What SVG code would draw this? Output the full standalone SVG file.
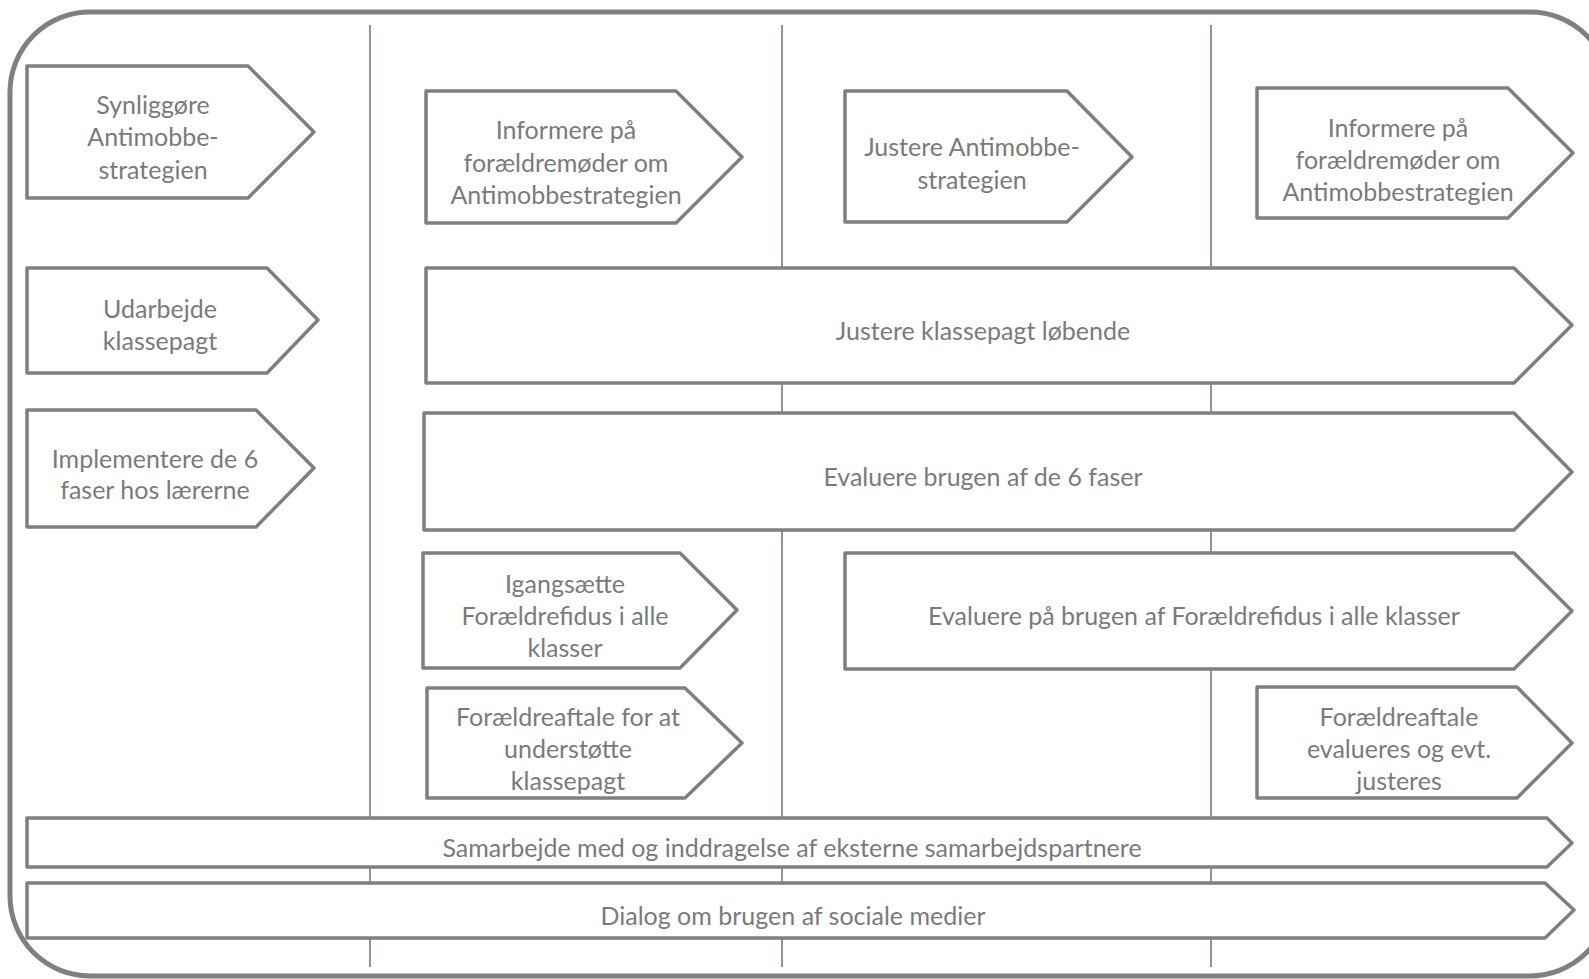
<svg xmlns="http://www.w3.org/2000/svg" width="1589" height="979" viewBox="0 0 1589 979">
<style>
.frame{fill:#fff;stroke:#808080;stroke-width:5}
.div{stroke:#8497b0;stroke-width:2}
.box{fill:#fff;stroke:#7f7f7f;stroke-width:3.5;stroke-linejoin:round}
text{font-family:Lato,"Open Sans","Liberation Sans",sans-serif;font-size:25px;fill:#7a7a7a;text-anchor:middle}
</style>
<rect class="frame" x="10" y="12" width="1600" height="964" rx="80" ry="80"/>
<g id="connectors">
<line class="div" x1="370" y1="25" x2="370" y2="967"/>
<line class="div" x1="782" y1="25" x2="782" y2="967"/>
<line class="div" x1="1211" y1="25" x2="1211" y2="967"/>
</g>
<g id="n1"><polygon class="box" points="27,66 248,66 314,132 248,198 27,198"/>
<text x="153" y="114">Synliggøre</text><text x="153" y="146">Antimobbe-</text><text x="153" y="179">strategien</text></g>
<g id="n2"><polygon class="box" points="426,91 676,91 742,157 676,223 426,223"/>
<text x="566" y="139">Informere på</text><text x="566" y="172">forældremøder om</text><text x="566" y="204">Antimobbestrategien</text></g>
<g id="n3"><polygon class="box" points="845,91 1067,91 1132,157 1067,222 845,222"/>
<text x="972" y="156">Justere Antimobbe-</text><text x="972" y="189">strategien</text></g>
<g id="n4"><polygon class="box" points="1257,88 1508,88 1573,153 1508,218 1257,218"/>
<text x="1398" y="137">Informere på</text><text x="1398" y="169">forældremøder om</text><text x="1398" y="201">Antimobbestrategien</text></g>
<g id="n5"><polygon class="box" points="27,268 267,268 318,320 267,373 27,373"/>
<text x="160" y="318">Udarbejde</text><text x="160" y="350">klassepagt</text></g>
<g id="n6"><polygon class="box" points="426,268 1514,268 1572,325 1514,383 426,383"/>
<text x="983" y="340">Justere klassepagt løbende</text></g>
<g id="n7"><polygon class="box" points="27,410 256,410 314,468 256,527 27,527"/>
<text x="155" y="468">Implementere de 6</text><text x="155" y="499">faser hos lærerne</text></g>
<g id="n8"><polygon class="box" points="424,413 1514,413 1572,472 1514,530 424,530"/>
<text x="983" y="486">Evaluere brugen af de 6 faser</text></g>
<g id="n9"><polygon class="box" points="423,553 680,553 737,610 680,668 423,668"/>
<text x="565" y="593">Igangsætte</text><text x="565" y="625">Forældrefidus i alle</text><text x="565" y="657">klasser</text></g>
<g id="n10"><polygon class="box" points="845,553 1514,553 1572,611 1514,669 845,669"/>
<text x="1194" y="625">Evaluere på brugen af Forældrefidus i alle klasser</text></g>
<g id="n11"><polygon class="box" points="427,688 685,688 742,743 685,798 427,798"/>
<text x="568" y="726">Forældreaftale for at</text><text x="568" y="758">understøtte</text><text x="568" y="790">klassepagt</text></g>
<g id="n12"><polygon class="box" points="1257,687 1517,687 1572,743 1517,798 1257,798"/>
<text x="1399" y="726">Forældreaftale</text><text x="1399" y="758">evalueres og evt.</text><text x="1399" y="790">justeres</text></g>
<g id="n13"><polygon class="box" points="27,818 1547,818 1572,843 1547,867 27,867"/>
<text x="792" y="857">Samarbejde med og inddragelse af eksterne samarbejdspartnere</text></g>
<g id="n14"><polygon class="box" points="27,883 1545,883 1574,910 1545,938 27,938"/>
<text x="793" y="925">Dialog om brugen af sociale medier</text></g>
</svg>
